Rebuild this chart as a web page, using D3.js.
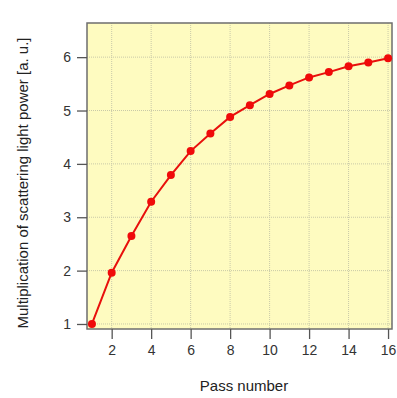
<!DOCTYPE html>
<html>
<head>
  <meta charset="utf-8">
  <script src="https://d3js.org/d3.v7.min.js"></script>
  <style>
    body { margin: 0; background: #fff; }
    text { font-family: "Liberation Sans", Arial, sans-serif; }
  </style>
</head>
<body>
<script>
  // pass number vs. multiplication factor
  var passes = [1, 2, 3, 4, 5, 6, 7, 8, 9, 10, 11, 12, 13, 14, 15, 16];
  var power = [1.0, 1.96, 2.65, 3.29, 3.79, 4.24, 4.57, 4.88, 5.1, 5.31, 5.47, 5.62, 5.72, 5.83, 5.9, 5.98];
  var xTicks = [2, 4, 6, 8, 10, 12, 14, 16];
  var yTicks = [1, 2, 3, 4, 5, 6];

  var width = 397, height = 398;
  var plotL = 87, plotR = 392, plotT = 23, plotB = 329;

  var svg = d3.select("body").append("svg")
      .attr("width", width)
      .attr("height", height);

  var x = d3.scaleLinear().domain([0.75, 16.2]).range([plotL, plotR]);
  var y = d3.scaleLinear().domain([0.906, 6.64]).range([plotB, plotT]);

  // plot background
  svg.append("rect")
      .attr("x", plotL).attr("y", plotT)
      .attr("width", plotR - plotL).attr("height", plotB - plotT)
      .style("fill", "#fefbc0");

  // grid
  svg.append("g").selectAll("line")
      .data(xTicks).enter().append("line")
      .attr("x1", function(d){ return x(d); })
      .attr("x2", function(d){ return x(d); })
      .attr("y1", plotT).attr("y2", plotB)
      .style("stroke", "#c9c9a8")
      .style("stroke-width", 1)
      .style("stroke-dasharray", "1,1");

  svg.append("g").selectAll("line")
      .data(yTicks).enter().append("line")
      .attr("y1", function(d){ return y(d); })
      .attr("y2", function(d){ return y(d); })
      .attr("x1", plotL).attr("x2", plotR)
      .style("stroke", "#c9c9a8")
      .style("stroke-width", 1)
      .style("stroke-dasharray", "1,1");

  // frame
  svg.append("rect")
      .attr("x", plotL).attr("y", plotT)
      .attr("width", plotR - plotL).attr("height", plotB - plotT)
      .style("fill", "none")
      .style("stroke", "#6e6e6e")
      .style("stroke-width", 1.5);

  // axes
  var xAxis = svg.append("g")
      .attr("transform", "translate(0," + plotB + ")")
      .call(d3.axisBottom(x).tickValues(xTicks).tickFormat(d3.format("d")).tickSize(10).tickPadding(6));
  var yAxis = svg.append("g")
      .attr("transform", "translate(" + plotL + ",0)")
      .call(d3.axisLeft(y).tickValues(yTicks).tickFormat(d3.format("d")).tickSize(10).tickPadding(6));

  [xAxis, yAxis].forEach(function(a){
    a.select(".domain").remove();
    a.selectAll("line").style("stroke", "#555").style("stroke-width", 1.3);
    a.selectAll("text").style("font-size", "14px").style("fill", "#333");
  });

  // line + markers
  var line = d3.line()
      .x(function(d, i){ return x(passes[i]); })
      .y(function(d){ return y(d); });

  svg.append("path")
      .datum(power)
      .attr("d", line)
      .style("fill", "none")
      .style("stroke", "#e8100c")
      .style("stroke-width", 2);

  svg.selectAll(".pt")
      .data(power).enter().append("circle")
      .attr("class", "pt")
      .attr("cx", function(d, i){ return x(passes[i]); })
      .attr("cy", function(d){ return y(d); })
      .attr("r", 4)
      .style("fill", "#f00a0a");

  // axis titles
  svg.append("text")
      .attr("x", 244).attr("y", 391)
      .attr("text-anchor", "middle")
      .style("font-size", "15px")
      .style("fill", "#222")
      .text("Pass number");

  svg.append("text")
      .attr("transform", "translate(28,183) rotate(-90)")
      .attr("text-anchor", "middle")
      .style("font-size", "15px")
      .style("fill", "#222")
      .text("Multiplication of scattering light power [a. u.]");
</script>
</body>
</html>
